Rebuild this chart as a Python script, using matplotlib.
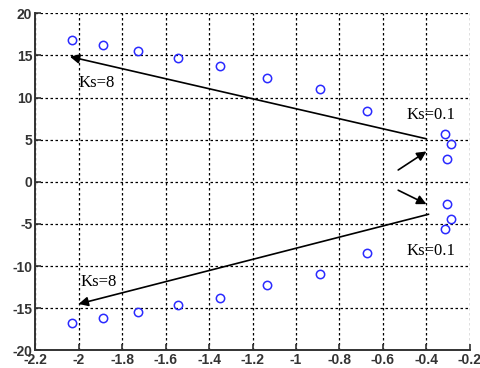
import matplotlib
matplotlib.use("Agg")
import matplotlib.pyplot as plt
import numpy as np

plt.rcParams['axes.unicode_minus'] = False

# Pole locations (upper half; lower half are conjugates)
re_vals = [-2.03, -1.887, -1.725, -1.544, -1.349, -1.132, -0.888, -0.672, -0.316, -0.289, -0.304]
im_vals = [16.8, 16.2, 15.5, 14.66, 13.74, 12.28, 11.0, 8.4, 5.63, 4.44, 2.66]

x_ticks = [-2.2, -2, -1.8, -1.6, -1.4, -1.2, -1, -0.8, -0.6, -0.4, -0.2]
x_tick_labels = ["-2.2", "-2", "-1.8", "-1.6", "-1.4", "-1.2", "-1", "-0.8", "-0.6", "-0.4", "-0.2"]
y_ticks = [-20, -15, -10, -5, 0, 5, 10, 15, 20]
y_tick_labels = ["-20", "-15", "-10", "-5", "0", "5", "10", "15", "20"]

labels = ["Ks=8", "Ks=0.1", "Ks=0.1", "Ks=8"]

fig = plt.figure(figsize=(4.81, 3.68), dpi=100)
ax = fig.add_axes([0.073, 0.048, 0.904, 0.916])

re = np.array(re_vals)
im = np.array(im_vals)
ax.plot(np.concatenate([re, re]), np.concatenate([im, -im]), 'o', mfc='none',
        mec='#2a2aff', ms=6, mew=1.1, linestyle='none', zorder=3)

ax.set_xlim(-2.2, -0.2)
ax.set_ylim(-20, 20)
ax.set_xticks(x_ticks)
ax.set_xticklabels(x_tick_labels)
ax.set_yticks(y_ticks)
ax.set_yticklabels(y_tick_labels)
ax.grid(True, color='black', linestyle=(0, (2, 2)), linewidth=0.9)
ax.spines['top'].set_visible(False)
ax.spines['right'].set_visible(False)
for s in ['left', 'bottom']:
    ax.spines[s].set_linewidth(1.4)
    ax.spines[s].set_color('#333333')
ax.tick_params(direction='in', length=4, width=1.2, labelsize=10, colors='#333333', pad=2)
for lab in ax.get_xticklabels() + ax.get_yticklabels():
    lab.set_fontweight('bold')
    lab.set_family('Liberation Sans')

ap = dict(arrowstyle='-|>', color='black', lw=1.2, mutation_scale=14, shrinkA=0, shrinkB=0)
ax.annotate('', xy=(-2.04, 14.85), xytext=(-0.40, 5.1), arrowprops=ap)
ax.annotate('', xy=(-2.0, -14.5), xytext=(-0.39, -3.85), arrowprops=ap)
ax.annotate('', xy=(-0.40, 3.6), xytext=(-0.53, 1.4), arrowprops=ap)
ax.annotate('', xy=(-0.40, -2.65), xytext=(-0.53, -1.0), arrowprops=ap)

tf = dict(family='Liberation Serif', fontsize=12, color='black')
ax.text(-2.0, 11.7, labels[0], va='center', ha='left', **tf)
ax.text(-0.49, 7.9, labels[1], va='center', ha='left', **tf)
ax.text(-0.49, -8.2, labels[2], va='center', ha='left', **tf)
ax.text(-1.99, -11.9, labels[3], va='center', ha='left', **tf)

fig.savefig('out.png', dpi=100)
